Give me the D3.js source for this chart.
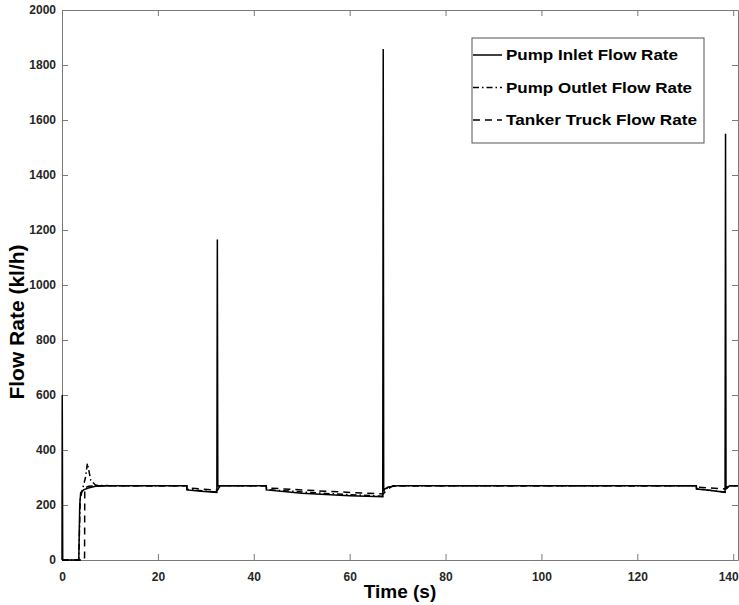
<!DOCTYPE html>
<html>
<head>
<meta charset="utf-8">
<script src="https://cdn.jsdelivr.net/npm/d3@7"></script>
<style>
  body { margin: 0; background: #fff; }
  .line { fill: none; stroke: #000; stroke-width: 1.5px; }
  .axis text { font-family: "Liberation Sans", Arial, sans-serif; font-weight: bold; font-size: 12px; fill: #262626; }
  .axis path, .axis line { stroke: #7a7a7a; }
</style>
</head>
<body>
<script>
// Pump inlet flow rate (solid)
var inletTime  = [0, 0.05, 0.15, 3.5, 3.7, 3.9, 4.5, 5.5, 7, 10, 26, 26.05, 29, 32.3, 32.4, 32.5, 32.6, 33,
                  42.6, 42.65, 50, 60, 66.9, 67.0, 67.1, 67.3, 68, 70,
                  132.3, 132.35, 135, 138.3, 138.4, 138.5, 138.7, 139.3, 141];
var inletFlow  = [0, 600, 0, 0, 200, 245, 255, 262, 268, 270, 270, 255, 250, 246, 1165, 265, 270, 270,
                  270, 255, 243, 234, 230, 1858, 250, 258, 265, 270,
                  270, 258, 254, 246, 1550, 262, 265, 270, 270];

// Pump outlet flow rate (dash-dot)
var outletTime = [0, 3.5, 3.8, 4.2, 4.9, 5.3, 6, 7, 10, 26, 26.05, 32.3, 32.6, 33,
                  42.6, 42.65, 55, 66.9, 67.3, 68, 70,
                  132.3, 132.35, 138.3, 138.7, 139.3, 141];
var outletFlow = [0, 0, 220, 252, 300, 352, 290, 272, 270, 270, 257, 247, 265, 270,
                  270, 256, 242, 232, 252, 265, 270,
                  270, 259, 247, 262, 270, 270];

// Tanker truck flow rate (dashed)
var truckTime  = [0, 4.7, 4.75, 5.5, 7, 10, 26, 26.05, 32.4, 33, 42.6, 42.65, 55, 67, 68, 69,
                  132.3, 132.35, 138.5, 139.3, 141];
var truckFlow  = [0, 0, 262, 268, 270, 270, 270, 262, 254, 270, 270, 262, 250, 240, 258, 270,
                  270, 265, 258, 270, 270];

var xTicks = [0, 20, 40, 60, 80, 100, 120, 140];
var yTicks = [0, 200, 400, 600, 800, 1000, 1200, 1400, 1600, 1800, 2000];
var legendNames = ["Pump Inlet Flow Rate", "Pump Outlet Flow Rate", "Tanker Truck Flow Rate"];
var legendDash = [null, "6,3,1.5,3", "7,5"];

(function () {
  'use strict';

  var W = 739, H = 605;
  var m = {left: 62, right: 738, top: 10, bottom: 560};

  var svg = d3.select("body").append("svg")
      .attr("width", W)
      .attr("height", H);

  var x = d3.scaleLinear().domain([0, 141]).range([m.left, m.right]);
  var y = d3.scaleLinear().domain([0, 2000]).range([m.bottom, m.top]);

  var series = [
    {t: inletTime, v: inletFlow, dash: legendDash[0]},
    {t: outletTime, v: outletFlow, dash: legendDash[1]},
    {t: truckTime, v: truckFlow, dash: legendDash[2]}
  ];

  var line = d3.line()
      .x(function (d) { return x(d[0]); })
      .y(function (d) { return y(d[1]); });

  svg.append("clipPath").attr("id", "plot")
    .append("rect")
      .attr("x", m.left - 2).attr("y", m.top)
      .attr("width", m.right - m.left + 2).attr("height", m.bottom - m.top + 1);

  // axes with inward ticks
  var xAxis = svg.append("g")
      .attr("class", "axis")
      .attr("transform", "translate(0," + m.bottom + ")")
      .call(d3.axisBottom(x).tickValues(xTicks).tickSizeInner(-6).tickSizeOuter(0).tickPadding(12));
  // keep last label inside the window
  xAxis.selectAll(".tick text").filter(function (d) { return d === 140; }).attr("dx", -5);

  svg.append("g")
      .attr("class", "axis")
      .attr("transform", "translate(" + m.left + ",0)")
      .call(d3.axisLeft(y).tickValues(yTicks).tickFormat(d3.format("d"))
        .tickSizeInner(-6).tickSizeOuter(0).tickPadding(6));

  svg.append("g")
      .attr("class", "axis")
      .attr("transform", "translate(0," + m.top + ")")
      .call(d3.axisTop(x).tickValues(xTicks).tickSizeInner(-6).tickSizeOuter(0).tickFormat(""));

  svg.append("g")
      .attr("class", "axis")
      .attr("transform", "translate(" + m.right + ",0)")
      .call(d3.axisRight(y).tickValues(yTicks).tickSizeInner(-6).tickSizeOuter(0).tickFormat(""));

  // draw lines (truck first so solid sits on top)
  series.slice().reverse().forEach(function (s) {
    var pts = s.t.map(function (t, i) { return [t, s.v[i]]; });
    svg.append("path")
        .datum(pts)
        .attr("class", "line")
        .attr("clip-path", "url(#plot)")
        .attr("stroke-dasharray", s.dash)
        .attr("d", line);
  });

  // axis titles
  svg.append("text")
      .attr("x", (m.left + m.right) / 2)
      .attr("y", 598)
      .style("text-anchor", "middle")
      .style("font-family", "Liberation Sans, Arial, sans-serif")
      .style("font-weight", "bold")
      .style("font-size", "19px")
      .text("Time (s)");

  svg.append("text")
      .attr("transform", "translate(24," + 322 + ") rotate(-90)")
      .style("text-anchor", "middle")
      .style("font-family", "Liberation Sans, Arial, sans-serif")
      .style("font-weight", "bold")
      .style("font-size", "21px")
      .text("Flow Rate (kl/h)");

  // legend
  var legend = svg.append("g");
  legend.append("rect")
      .attr("x", 472).attr("y", 38)
      .attr("width", 232).attr("height", 105)
      .attr("fill", "#fff")
      .attr("stroke", "#555");

  var legendWidths = [172, 186, 191];
  legendNames.forEach(function (name, i) {
    var cy = 55 + i * 32.5;
    legend.append("line")
        .attr("class", "line")
        .attr("x1", 473).attr("x2", 502)
        .attr("y1", cy).attr("y2", cy)
        .attr("stroke-dasharray", legendDash[i]);
    legend.append("text")
        .attr("x", 506)
        .attr("y", cy + 5)
        .attr("textLength", legendWidths[i])
        .attr("lengthAdjust", "spacingAndGlyphs")
        .style("font-family", "Liberation Sans, Arial, sans-serif")
        .style("font-weight", "bold")
        .style("font-size", "14px")
        .text(name);
  });
})();
</script>
</body>
</html>
